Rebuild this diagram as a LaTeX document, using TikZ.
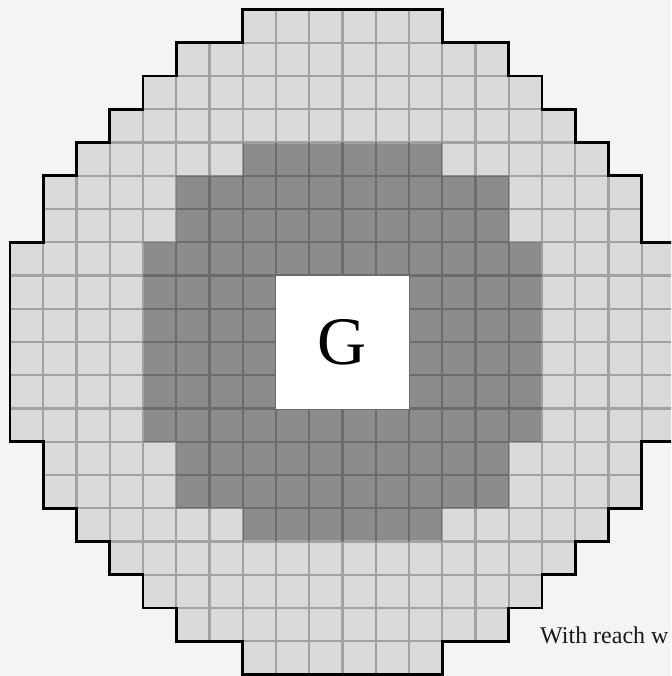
\documentclass[tikz,border=0pt]{standalone}
\usepackage{fontspec}
\setmainfont{Liberation Serif}
\definecolor{bgc}{HTML}{F4F4F4}
\definecolor{lightc}{HTML}{DADADA}
\definecolor{darkc}{HTML}{8C8C8C}
\definecolor{lightline}{HTML}{A2A2A2}
\definecolor{darkline}{HTML}{6C6C6C}
\tikzset{
  outer/.style={fill=lightc},
  inner/.style={fill=darkc},
  gridline/.style={draw=lightline,line width=2.2pt},
  darkgridline/.style={draw=darkline,line width=2.2pt},
  outline/.style={draw=black,line width=2.8pt,line join=miter},
  goal/.style={fill=white,draw=none,inner sep=0pt,minimum size=4*33.25pt,font=\fontsize{68}{68}\selectfont},
  caption/.style={anchor=base west,inner sep=0pt,font=\fontsize{24}{24}\selectfont,text=black!90}
}
\begin{document}
\begin{tikzpicture}[x=1pt,y=-1pt]
\useasboundingbox (0,0) rectangle (671,676);
\clip (0,0) rectangle (671,676);
\fill[bgc] (0,0) rectangle (671,676);
\begin{scope}[shift={(10,9.5)},x=33.25pt,y=-33.25pt]
  \def\shape{(0,7) -- (1,7) -- (1,5) -- (2,5) -- (2,4) -- (3,4) -- (3,3) -- (4,3) -- (4,2) -- (5,2) -- (5,1) -- (7,1) -- (7,0) -- (13,0) -- (13,1) -- (15,1) -- (15,2) -- (16,2) -- (16,3) -- (17,3) -- (17,4) -- (18,4) -- (18,5) -- (19,5) -- (19,7) -- (20,7) -- (20,13) -- (19,13) -- (19,15) -- (18,15) -- (18,16) -- (17,16) -- (17,17) -- (16,17) -- (16,18) -- (15,18) -- (15,19) -- (13,19) -- (13,20) -- (7,20) -- (7,19) -- (5,19) -- (5,18) -- (4,18) -- (4,17) -- (3,17) -- (3,16) -- (2,16) -- (2,15) -- (1,15) -- (1,13) -- (0,13) -- cycle}
  \def\core{(7,4) -- (13,4) -- (13,5) -- (15,5) -- (15,7) -- (16,7) -- (16,13) -- (15,13) -- (15,15) -- (13,15) -- (13,16) -- (7,16) -- (7,15) -- (5,15) -- (5,13) -- (4,13) -- (4,7) -- (5,7) -- (5,5) -- (7,5) -- cycle}
  \fill[outer] \shape;
  \fill[inner] \core;
  \begin{scope}
    \clip \shape;
    \foreach \i in {1,...,19} {
      \draw[gridline] (\i,0) -- (\i,20);
      \draw[gridline] (0,\i) -- (20,\i);
    }
  \end{scope}
  \begin{scope}
    \clip \core;
    \foreach \i in {5,...,15} {
      \draw[darkgridline] (\i,0) -- (\i,20);
      \draw[darkgridline] (0,\i) -- (20,\i);
    }
  \end{scope}
  \node[goal] (g) at (10,10) {G};
  \draw[outline] \shape;
\end{scope}
\node[caption] (cap) at (540,643) {With reach w};
\end{tikzpicture}
\end{document}
